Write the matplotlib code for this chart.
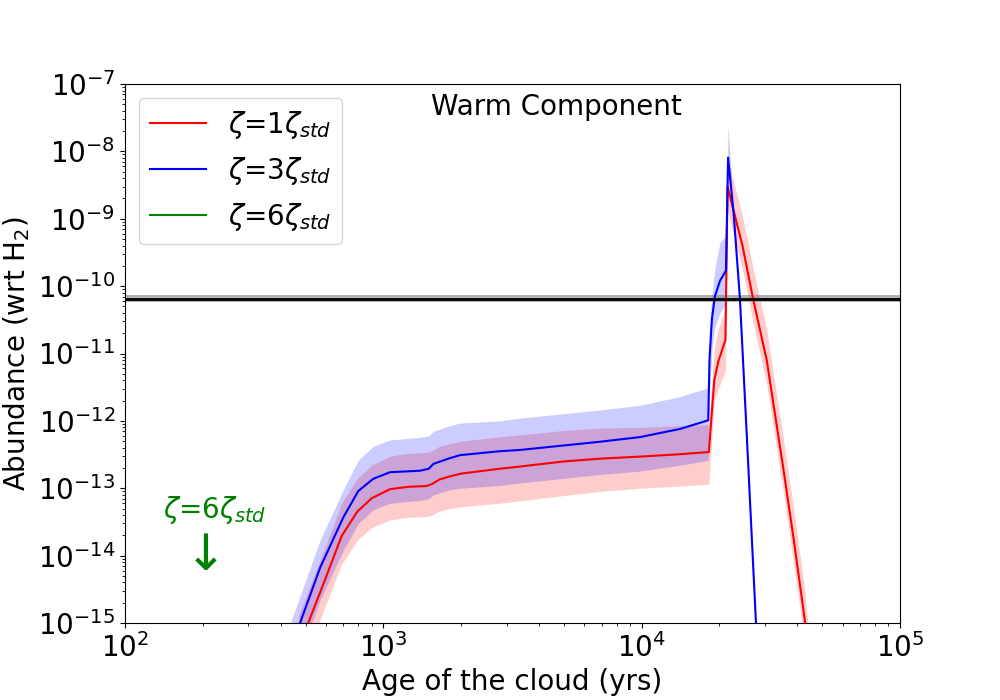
import matplotlib
matplotlib.use("Agg")
import matplotlib.pyplot as plt
import numpy as np

# ---------------- data ----------------
red_t = [470, 512, 600, 690, 793, 901, 1062, 1250, 1470, 1540, 1650, 1811, 2000, 2830, 3380,
         5000, 6900, 9860, 14100, 18200, 19100, 19800, 21100, 21500, 24550, 27040, 30480,
         35320, 38900, 42850, 46000]
red_y = [4.3e-16, 1.0e-15, 4.8e-15, 1.96e-14, 4.5e-14, 7.1e-14, 9.7e-14, 1.05e-13, 1.08e-13,
         1.15e-13, 1.35e-13, 1.5e-13, 1.65e-13, 1.95e-13, 2.1e-13, 2.5e-13, 2.75e-13, 2.95e-13,
         3.2e-13, 3.45e-13, 4e-12, 7.6e-12, 1.6e-11, 3.0e-9, 4e-10, 6.3e-11, 8e-12, 2.0e-13,
         1.6e-14, 1.07e-15, 6e-17]
red_lo = [1.6e-16, 4.0e-16, 1.9e-15, 7.5e-15, 1.7e-14, 2.6e-14, 3.4e-14, 3.7e-14, 3.8e-14,
          4.0e-14, 4.6e-14, 5.0e-14, 5.3e-14, 6.0e-14, 6.5e-14, 7.8e-14, 9.0e-14, 1.0e-13,
          1.08e-13, 1.15e-13, 2.0e-12, 3.0e-12, 5.5e-12, 1.3e-9, 1.8e-10, 2.8e-11, 3.5e-12,
          9e-14, 7e-15, 4.7e-16, 2.6e-17]
red_hi = [1.3e-15, 3.0e-15, 1.45e-14, 6.0e-14, 1.4e-13, 2.2e-13, 3.0e-13, 3.3e-13, 3.4e-13,
          3.6e-13, 4.2e-13, 4.6e-13, 5.0e-13, 5.8e-13, 6.2e-13, 7.2e-13, 7.8e-13, 8.0e-13,
          8.5e-13, 8.8e-13, 1.2e-11, 2.3e-11, 4.8e-11, 8.0e-9, 1.1e-9, 1.8e-10, 2.3e-11,
          5.6e-13, 4.5e-14, 3e-15, 1.7e-16]

blue_t = [440, 476, 569, 700, 800, 914, 1061, 1387, 1500, 1563, 1811, 1982, 2830, 3380, 6900,
          9860, 14100, 18100, 18300, 18700, 19200, 20100, 21200, 21600, 22700, 24000, 25500,
          27700, 28500]
blue_y = [4.3e-16, 1.0e-15, 6.6e-15, 3.7e-14, 9.1e-14, 1.38e-13, 1.73e-13, 1.82e-13, 1.95e-13,
          2.3e-13, 2.8e-13, 3.1e-13, 3.55e-13, 3.7e-13, 4.9e-13, 5.75e-13, 7.6e-13, 1.02e-12,
          8e-12, 3.2e-11, 7e-11, 1.2e-10, 1.7e-10, 8.1e-9, 1.2e-9, 6.6e-11, 6.5e-13, 1e-15,
          1.1e-16]
blue_lo = [1.4e-16, 3.3e-16, 2.2e-15, 1.2e-14, 3.0e-14, 4.8e-14, 6.0e-14, 6.6e-14, 7.0e-14,
           8.0e-14, 9.5e-14, 1.0e-13, 1.1e-13, 1.2e-13, 1.6e-13, 1.8e-13, 2.2e-13, 2.6e-13,
           2.5e-12, 1.1e-11, 2.5e-11, 4.0e-11, 5.5e-11, 5.0e-9, 1.05e-9, 5.8e-11, 5.7e-13,
           8.8e-16, 1e-16]
blue_hi = [1.1e-15, 2.5e-15, 1.7e-14, 9.5e-14, 2.6e-13, 4.2e-13, 5.2e-13, 5.7e-13, 6.0e-13,
           7.0e-13, 8.5e-13, 9.3e-13, 1.0e-12, 1.1e-12, 1.45e-12, 1.7e-12, 2.3e-12, 3.1e-12,
           2.4e-11, 7.5e-11, 1.8e-10, 4.5e-10, 5.5e-10, 2.4e-8, 1.4e-9, 7.5e-11, 7.4e-13,
           1.15e-15, 1.25e-16]

obs_value = 6.5e-11
obs_lo = 5.9e-11
obs_hi = 7.3e-11

labels = [r"$\zeta$=1$\zeta_{std}$", r"$\zeta$=3$\zeta_{std}$", r"$\zeta$=6$\zeta_{std}$"]

# ---------------- plot ----------------
fig = plt.figure(figsize=(10, 7), dpi=100)
ax = fig.add_subplot(111)

ax.fill_between(red_t, red_lo, red_hi, color="red", alpha=0.2, lw=0)
ax.fill_between(blue_t, blue_lo, blue_hi, color="blue", alpha=0.2, lw=0)
ax.plot(red_t, red_y, color="red", lw=1.5, label=labels[0])
ax.plot(blue_t, blue_y, color="blue", lw=1.5, label=labels[1])
ax.plot([], [], color="green", lw=1.5, label=labels[2])

ax.axhspan(obs_lo, obs_hi, color="gray", alpha=0.6, lw=0)
ax.axhline(obs_value, color="black", lw=2)

ax.set_xscale("log")
ax.set_yscale("log")
ax.set_xlim(1e2, 1e5)
ax.set_ylim(1e-15, 1e-7)

ax.set_xlabel("Age of the cloud (yrs)", fontsize=20)
ax.set_ylabel(r"Abundance (wrt H$_2$)", fontsize=20)
ax.tick_params(axis="both", which="major", labelsize=20)

ax.text(0.556, 0.957, "Warm Component", transform=ax.transAxes, ha="center", va="center",
        fontsize=20)
ax.text(0.116, 0.209, labels[2], transform=ax.transAxes, ha="center", va="center",
        fontsize=20, color="green")
ax.text(0.092, 0.125, r"$\downarrow$", transform=ax.transAxes, ha="center", va="center",
        fontsize=36, color="green")

ax.legend(loc="upper left", fontsize=20)

fig.savefig("out.png", dpi=100)
